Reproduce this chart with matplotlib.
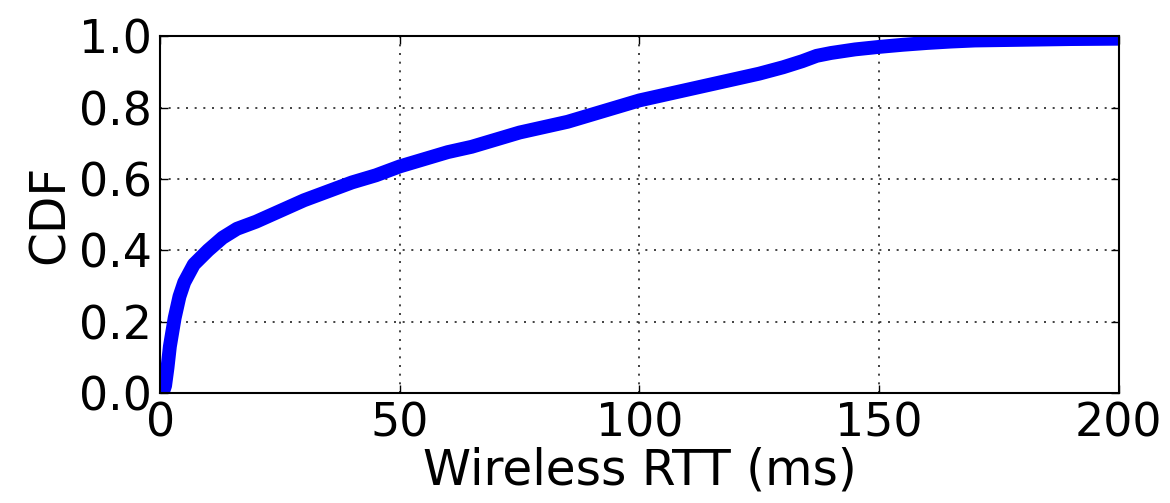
import numpy as np
import matplotlib
matplotlib.use("Agg")
import matplotlib.pyplot as plt

# values
rtt_ms = [0.5, 1.0, 1.5, 2.0, 2.5, 3.0, 4.0, 5.0, 7.0, 10, 13, 16, 20, 25, 30, 35,
          40, 45, 50, 55, 60, 65, 70, 75, 80, 85, 90, 95, 100, 105, 110, 115,
          120, 125, 130, 134, 137, 140, 145, 150, 155, 160, 165, 170, 180, 190, 200]
cdf = [0.0, 0.02, 0.07, 0.13, 0.17, 0.21, 0.27, 0.31, 0.36, 0.40, 0.435, 0.46,
       0.48, 0.51, 0.54, 0.565, 0.59, 0.61, 0.635, 0.655, 0.675, 0.69, 0.71,
       0.73, 0.745, 0.76, 0.78, 0.80, 0.82, 0.835, 0.85, 0.865, 0.88, 0.895,
       0.913, 0.93, 0.945, 0.953, 0.963, 0.970, 0.976, 0.981, 0.985, 0.988,
       0.99, 0.992, 0.993]
xticks = [0, 50, 100, 150, 200]
yticks = [0.0, 0.2, 0.4, 0.6, 0.8, 1.0]

fig = plt.figure(figsize=(11.7, 5.03), dpi=100)
ax = fig.add_axes([0.137, 0.219, 0.819, 0.709])

ax.plot(rtt_ms, cdf, color="#0000ff", linewidth=10, solid_capstyle="butt")

ax.set_xlim(0, 200)
ax.set_ylim(0, 1)
ax.set_xticks(xticks)
ax.set_yticks(yticks)
ax.set_yticklabels(["%.1f" % v for v in yticks])
ax.tick_params(direction="in", top=True, right=True, labelsize=33, length=6, width=1, pad=6)
ax.grid(True, color="#222222", linestyle=(0, (1.2, 4)), linewidth=1.2)
for s in ax.spines.values():
    s.set_linewidth(1.5)

ax.set_xlabel("Wireless RTT (ms)", fontsize=35, labelpad=0)
ax.set_ylabel("CDF", fontsize=35, labelpad=4)

fig.savefig("out.png", dpi=100)
